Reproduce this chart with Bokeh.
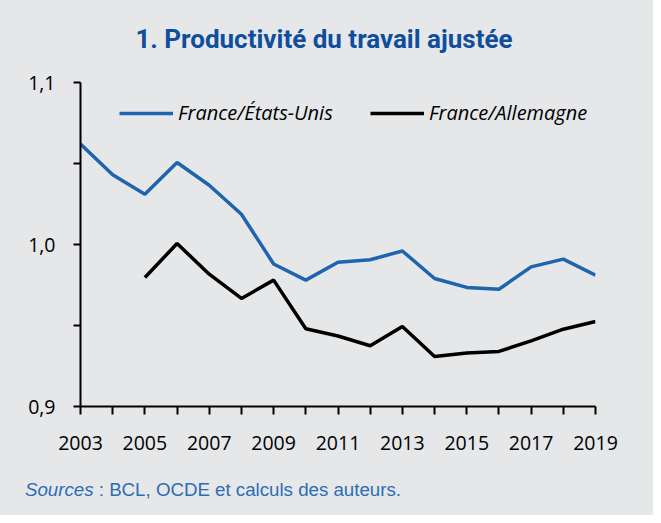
from bokeh.plotting import figure
from bokeh.models import FixedTicker, Legend, LegendItem, Range1d, Div
from bokeh.layouts import column
from bokeh.embed import file_html
from bokeh.resources import INLINE

years = list(range(2003, 2020))
fr_us = [1.062, 1.043, 1.031, 1.0506, 1.0366, 1.0187, 0.988, 0.978, 0.989, 0.9906,
         0.996, 0.979, 0.9735, 0.9724, 0.9862, 0.991, 0.981]
years_de = list(range(2005, 2020))
fr_de = [0.9796, 1.0006, 0.9817, 0.9667, 0.978, 0.948, 0.9435, 0.9375, 0.9494,
         0.9309, 0.933, 0.934, 0.9405, 0.9477, 0.9525]

x_labels = {y: (str(y) if y % 2 == 1 else "") for y in years}
y_ticks = [0.9, 0.95, 1.0, 1.05, 1.1]
y_labels = {0.9: "0,9", 0.95: "", 1.0: "1,0", 1.05: "", 1.1: "1,1"}

title_text = "1. Productivité du travail ajustée"
source_italic = "Sources"
source_rest = " : BCL, OCDE et calculs des auteurs."

BG = "#E6E7E9"
BLUE = "#1E64AE"

title = Div(
    text=(f'<div style="width:648px;text-align:center;padding-top:26px;'
          f'font-family:Roboto;font-weight:bold;font-size:26px;line-height:26px;'
          f'color:#0F4E9C;white-space:nowrap;">{title_text}</div>'),
    width=653, height=60, margin=0,
    styles={"background-color": BG},
)

p = figure(width=653, height=410, output_backend="svg", toolbar_location=None,
           x_range=Range1d(2003, 2019), y_range=Range1d(0.9, 1.1),
           min_border_left=80, min_border_right=58, min_border_top=22, min_border_bottom=64)
p.background_fill_color = BG
p.border_fill_color = BG
p.outline_line_color = None
p.grid.visible = False

r1 = p.line(years, fr_us, line_color=BLUE, line_width=3.5)
r2 = p.line(years_de, fr_de, line_color="black", line_width=3.5)

for ax in (p.xaxis[0], p.yaxis[0]):
    ax.axis_line_width = 2
    ax.axis_line_color = "black"
    ax.major_tick_line_width = 2
    ax.major_tick_line_color = "black"
    ax.major_tick_in = 0
    ax.minor_tick_line_color = None
    ax.major_label_text_font = "Open Sans"
    ax.major_label_text_font_size = "19.5px"
    ax.major_label_text_color = "black"

p.xaxis.ticker = FixedTicker(ticks=years)
p.xaxis.major_label_overrides = x_labels
p.xaxis.major_tick_out = 8
p.xaxis.major_label_standoff = 21
p.yaxis.ticker = FixedTicker(ticks=y_ticks)
p.yaxis.major_label_overrides = y_labels
p.yaxis.major_tick_out = 7
p.yaxis.major_label_standoff = 18

legend = Legend(items=[LegendItem(label="France/États-Unis", renderers=[r1]),
                       LegendItem(label="France/Allemagne", renderers=[r2])],
                orientation="horizontal", location=(39, 280),
                glyph_width=54, glyph_height=20, label_standoff=5, spacing=12,
                label_width=180,
                padding=0, margin=0, border_line_color=None,
                background_fill_alpha=0,
                label_text_font="Open Sans", label_text_font_style="italic",
                label_text_font_size="20px", label_text_color="black")
p.add_layout(legend)

source = Div(
    text=(f'<div style="padding:10px 0 0 25px;font-family:\'Liberation Sans\';'
          f'font-size:18.7px;color:#2C6DB4;line-height:20px;white-space:nowrap;">'
          f'<i>{source_italic}</i>{source_rest}</div>'),
    width=653, height=45, margin=0,
    styles={"background-color": BG},
)

layout = column(title, p, source, spacing=0, margin=0, styles={"background-color": BG})

open("out.html", "w").write(file_html(layout, INLINE))
